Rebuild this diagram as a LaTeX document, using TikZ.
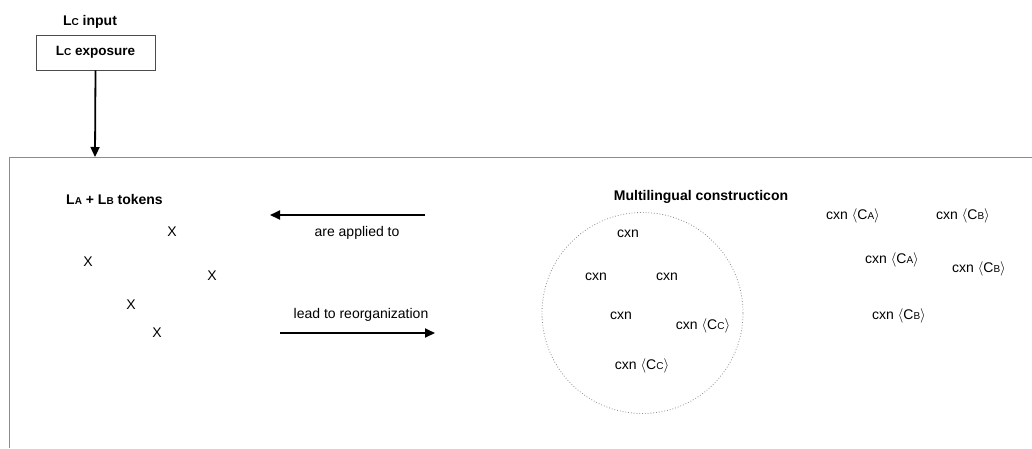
\documentclass[tikz,border=0pt]{standalone}
\usepackage{fontspec}
\setmainfont{Liberation Sans}
\usetikzlibrary{arrows.meta}
\newcommand\smc[1]{{\fontsize{10}{10}\selectfont #1}}
\newcommand\ang[1]{$\langle$#1$\rangle$}
\begin{document}
\begin{tikzpicture}[x=1pt,y=-1pt,
  lbl/.style={font=\fontsize{14}{16}\selectfont, inner sep=0pt},
  head/.style={font=\fontsize{14}{16}\selectfont\bfseries, inner sep=0pt},
  bigarrow/.style={line width=1.8pt, -{Triangle[length=10pt,width=9pt]}},
  frameline/.style={draw=black!45, line width=1pt}]
\useasboundingbox[fill=white] (0,0) rectangle (1032,448);

% input block
\node[head] (inhead) at (90,22) {L\smc{C} input};
\node[draw=black!70, line width=0.6pt, minimum width=119pt, minimum height=35pt,
      font=\fontsize{13.5}{16}\selectfont\bfseries] (expo) at (95.5,52.5) {L\smc{C} exposure};
\coordinate (entry) at (95,157);
\draw[bigarrow] (expo.south) -- (entry);

% enclosing frame (open to the right and bottom)
\draw[frameline] (9,448) -- (9,157) -- (1032,157);

% token field
\node[head] (tokhead) at (114.5,199) {L\smc{A} + L\smc{B} tokens};
\node[lbl] (x1) at (172,232) {X};
\node[lbl] (x2) at (88,262) {X};
\node[lbl] (x3) at (212,276) {X};
\node[lbl] (x4) at (131,305) {X};
\node[lbl] (x5) at (157,333) {X};

% relation arrows
\coordinate (aR) at (425,215);
\coordinate (aL) at (270,215);
\draw[bigarrow] (aR) -- (aL);
\node[lbl] (applied) at (357,233) {are applied to};
\node[lbl] (reorg) at (361,315) {lead to reorganization};
\coordinate (bL) at (280,333);
\coordinate (bR) at (435,333);
\draw[bigarrow] (bL) -- (bR);

% constructicon
\node[head] (mhead) at (701,197) {Multilingual constructicon};
\node[circle, draw=black!45, dotted, line width=0.8pt, minimum size=201pt] (circ) at (642.5,313) {};
\node[lbl] (c1) at (628,234) {cxn};
\node[lbl] (c2) at (596,277) {cxn};
\node[lbl] (c3) at (667,277) {cxn};
\node[lbl] (c4) at (621,316) {cxn};
\node[lbl] (c5) at (703,326) {cxn \ang{C\smc{C}}};
\node[lbl] (c6) at (642,366) {cxn \ang{C\smc{C}}};

% language-specific constructions
\node[lbl] (r1) at (853,216) {cxn \ang{C\smc{A}}};
\node[lbl] (r2) at (963,216) {cxn \ang{C\smc{B}}};
\node[lbl] (r3) at (892,260) {cxn \ang{C\smc{A}}};
\node[lbl] (r4) at (979,269) {cxn \ang{C\smc{B}}};
\node[lbl] (r5) at (899,316) {cxn \ang{C\smc{B}}};
\end{tikzpicture}
\end{document}
